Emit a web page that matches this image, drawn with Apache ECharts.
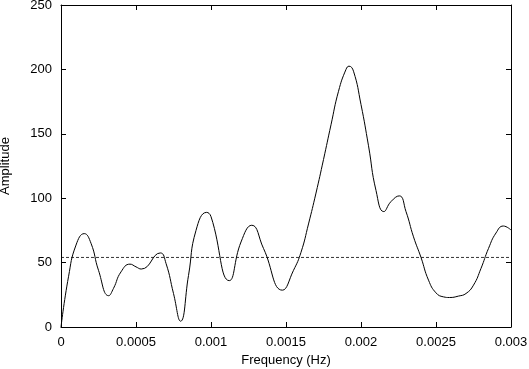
<!DOCTYPE html>
<html>
<head>
<meta charset="utf-8">
<script src="https://cdn.jsdelivr.net/npm/echarts@6/dist/echarts.min.js"></script>
<style>
  html, body { margin: 0; padding: 0; background: #fff; }
  #chart { width: 529px; height: 369px; }
</style>
</head>
<body>
<div id="chart"></div>
<script>
// frequency (Hz) and amplitude: the tops and bottoms
// of each wave plus readings on the slopes between them
const freq = [
  0, 0.00005, 0.0001, 0.000155, 0.0002, 0.00025, 0.000318, 0.00035, 0.0004, 0.00046,
  0.0005, 0.000535, 0.000662, 0.0007, 0.00075, 0.000797, 0.00085, 0.0009, 0.000971, 0.001,
  0.001122, 0.0012, 0.001272, 0.00135, 0.001476, 0.00155, 0.0016, 0.00165,
  0.0017, 0.00175, 0.0018, 0.00185, 0.0019, 0.00192, 0.00195, 0.002, 0.00205, 0.0021,
  0.002152, 0.0022, 0.002255, 0.0023, 0.00235, 0.0024, 0.00245, 0.0025, 0.00255, 0.00259,
  0.00265, 0.0027, 0.00275, 0.0028, 0.00285, 0.0029, 0.002949, 0.003
];
const amp = [
  0, 39, 63.6, 72.5, 65, 44, 24.3, 30, 42.8, 48.8,
  46.7, 45, 57.5, 49.4, 26, 4.5, 40, 75, 89, 85.7,
  36, 66, 79, 61, 28.6, 44, 58, 80,
  104, 130, 157, 183, 200, 202.5, 198.6, 172.7, 140.7, 106,
  89.6, 97.4, 101.8, 89.6, 70, 54, 36.4, 26.5, 23.4, 22.9,
  24, 26, 32.5, 45.5, 61, 73, 78.4, 75.3
];
const threshold = 54;
const xTicks = { min: 0, max: 0.003, step: 0.0005 };
const yTicks = { min: 0, max: 250, step: 50 };

const chart = echarts.init(document.getElementById('chart'));

const font = 'Liberation Sans, Arial, sans-serif';
const axisBase = {
  type: 'value',
  axisLine: { show: true, onZero: false, lineStyle: { color: '#000', width: 1 } },
  axisTick: { show: true, inside: true, length: 5, lineStyle: { color: '#000', width: 1 } },
  splitLine: { show: false }
};

const option = {
  animation: false,
  grid: { left: 61, right: 18, top: 5, bottom: 42, outerBoundsMode: 'none' },
  xAxis: [
    Object.assign({}, axisBase, {
      position: 'bottom',
      min: xTicks.min, max: xTicks.max, interval: xTicks.step,
      axisLabel: { color: '#000', fontSize: 13, fontFamily: font, margin: 9 },
      name: 'Frequency (Hz)',
      nameLocation: 'middle',
      nameGap: 26,
      nameTextStyle: { color: '#000', fontSize: 13, fontFamily: font }
    }),
    Object.assign({}, axisBase, {
      position: 'top',
      min: xTicks.min, max: xTicks.max, interval: xTicks.step,
      axisLabel: { show: false }
    })
  ],
  yAxis: [
    Object.assign({}, axisBase, {
      position: 'left',
      min: yTicks.min, max: yTicks.max, interval: yTicks.step,
      axisLabel: { color: '#000', fontSize: 13, fontFamily: font, margin: 9 },
      name: 'Amplitude',
      nameLocation: 'middle',
      nameGap: 49,
      nameTextStyle: { color: '#000', fontSize: 13, fontFamily: font }
    }),
    Object.assign({}, axisBase, {
      position: 'right',
      min: yTicks.min, max: yTicks.max, interval: yTicks.step,
      axisLabel: { show: false }
    })
  ],
  series: [
    {
      type: 'line',
      data: freq.map((f, i) => [f, amp[i]]),
      smooth: 0.5,
      showSymbol: false,
      lineStyle: { color: '#000', width: 1 }
    },
    {
      type: 'line',
      data: [[xTicks.min, threshold], [xTicks.max, threshold]],
      showSymbol: false,
      lineStyle: { color: '#000', width: 0.8, type: [3, 2] }
    }
  ]
};

chart.setOption(option);
</script>
</body>
</html>
